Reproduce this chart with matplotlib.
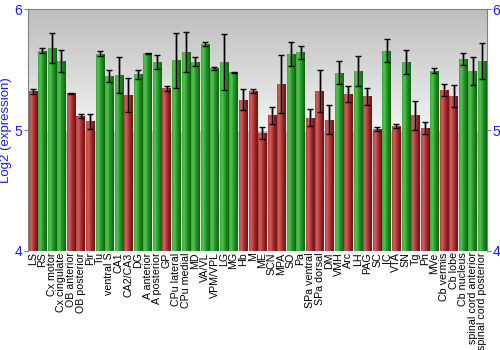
import numpy as np
import matplotlib
matplotlib.use("Agg")
import matplotlib.pyplot as plt
from matplotlib.colors import LinearSegmentedColormap

regions = ["LS", "RS", "Cx motor", "Cx cingulate", "OB anterior", "OB posterior", "Pir", "Tu",
           "ventral S", "CA1", "CA2/CA3", "DG", "A anterior", "A posterior", "GP", "CPu lateral",
           "CPu medial", "MD", "VA/VL", "VPM/VPL", "LG", "MG", "Hb", "M", "ME", "SCN", "MPA", "SO",
           "Pa", "SPa ventral", "SPa dorsal", "DM", "VMH", "Arc", "LH", "PAG", "SC", "IC", "VTA",
           "SN", "Tg", "Pn", "MVe", "Cb vermis", "Cb lobe", "Cb nucleus", "spinal cord anterior",
           "spinal cord posterior"]

expr = [5.32, 5.655, 5.677, 5.572, 5.304, 5.116, 5.072, 5.63,
        5.448, 5.453, 5.287, 5.461, 5.633, 5.566, 5.345, 5.575,
        5.644, 5.564, 5.713, 5.511, 5.564, 5.478, 5.249, 5.323, 4.975, 5.122, 5.378, 5.63,
        5.644, 5.102, 5.323, 5.083, 5.475, 5.298, 5.489, 5.279, 5.011, 5.657, 5.033,
        5.561, 5.124, 5.017, 5.489, 5.329, 5.279, 5.588, 5.489, 5.569]

err = [0.02, 0.02, 0.125, 0.09, 0.005, 0.02, 0.06, 0.02,
       0.05, 0.15, 0.14, 0.037, 0.003, 0.058, 0.02, 0.226,
       0.165, 0.036, 0.015, 0.012, 0.232, 0.003, 0.087, 0.02, 0.052, 0.07, 0.24, 0.10,
       0.054, 0.07, 0.174, 0.12, 0.097, 0.07, 0.127, 0.07, 0.018, 0.097, 0.017,
       0.097, 0.12, 0.046, 0.02, 0.048, 0.09, 0.052, 0.114, 0.149]

# r = red (low), g = green (high)
group = ["r", "g", "g", "g", "r", "r", "r", "g",
         "g", "g", "r", "g", "g", "g", "r", "g",
         "g", "g", "g", "g", "g", "g", "r", "r", "r", "r", "r", "g",
         "g", "r", "r", "r", "g", "r", "g", "r", "r", "g", "r",
         "g", "r", "r", "g", "r", "r", "g", "g", "g"]

blue = "#1a1aff"
red_cmap = LinearSegmentedColormap.from_list("r", ["#b84040", "#d06060", "#b03a3a", "#8c2020", "#6e1414"])
green_cmap = LinearSegmentedColormap.from_list("g", ["#3aa83a", "#55c455", "#2e9e2e", "#1c7e1c", "#136313"])

fig = plt.figure(figsize=(5, 3.5), dpi=100)
ax = fig.add_axes([0.056, 0.283, 0.918, 0.691])

x = np.arange(len(regions))
xlim = (-0.5, len(regions) - 0.5)

# background gradient (one band per unit)
bg = LinearSegmentedColormap.from_list("bg", ["#f3f3f3", "#bdbdbd"])
grad = np.linspace(0, 1, 256).reshape(-1, 1)
for lo in (4, 5):
    ax.imshow(grad, cmap=bg, aspect="auto", extent=(xlim[0], xlim[1], lo + 1, lo),
              origin="upper", zorder=0)
ax.axhline(5, color="white", lw=1, zorder=1)

bars = ax.bar(x, [v - 4 for v in expr], bottom=4, width=0.88, color="none", edgecolor="none", zorder=2)
hgrad = np.linspace(0, 1, 64).reshape(1, -1)
for b, g in zip(bars, group):
    im = ax.imshow(hgrad, cmap=red_cmap if g == "r" else green_cmap, aspect="auto",
                   extent=(b.get_x(), b.get_x() + b.get_width(), b.get_y(), b.get_y() + b.get_height()),
                   zorder=2)
    im.set_clip_path(b)
ax.set_xlim(*xlim)
ax.set_ylim(4, 6)

ax.errorbar(x, expr, yerr=err, fmt="none", ecolor="#555555", elinewidth=2, capsize=0, alpha=0.6, zorder=3)
ax.errorbar(x, expr, yerr=err, fmt="none", ecolor="black", elinewidth=0.8, capsize=2, capthick=1, zorder=4)

ax.set_yticks([4, 5, 6])
ax.tick_params(axis="y", colors="#808080", labelcolor=blue, labelsize=10, length=3, width=0.8,
               left=True, right=True, labelleft=True, labelright=True, pad=1)
ax.set_xticks(x)
ax.set_xticklabels(regions, rotation=90, fontsize=7.7, family="Liberation Sans")
ax.tick_params(axis="x", length=0, pad=1)
for lab in ax.get_yticklabels():
    lab.set_family("Liberation Sans")
ax.set_ylabel("Log2 (expression)", color=blue, fontsize=9.5, family="Liberation Sans", labelpad=2)

for s in ("left", "right", "top"):
    ax.spines[s].set_color("#808080")
    ax.spines[s].set_linewidth(0.8)
ax.spines["bottom"].set_visible(False)

fig.savefig("out.png", dpi=100)
